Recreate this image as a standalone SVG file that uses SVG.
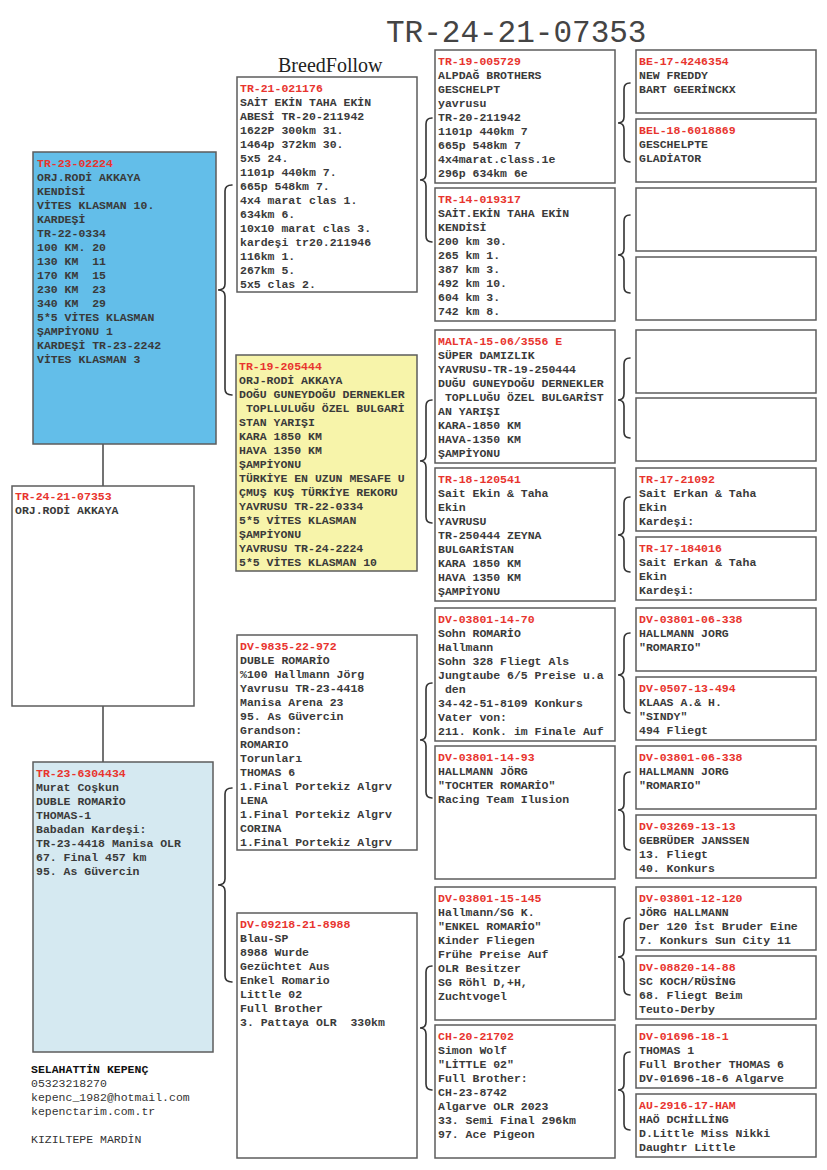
<svg xmlns="http://www.w3.org/2000/svg" width="827" height="1170" viewBox="0 0 827 1170">
<style>
.box{fill:#fff;stroke:#5c5c5c;stroke-width:1.5}
.sire{fill:#63bee9}
.dam{fill:#d5e9f1}
.yel{fill:#f7f4aa}
.t{font-family:"Liberation Mono","DejaVu Sans Mono",monospace;font-size:11.5px;fill:#3a3a3a;font-weight:bold;white-space:pre}
.f{font-family:"Liberation Mono","DejaVu Sans Mono",monospace;font-size:11.5px;fill:#333;white-space:pre}
.r{fill:#e8342e}
.br{fill:none;stroke:#333;stroke-width:1.6;stroke-linecap:round}
.ln{stroke:#444;stroke-width:1.5}
</style>
<rect width="827" height="1170" fill="#fff"/>
<text x="386" y="42" font-family="Liberation Mono, monospace" font-size="31" fill="#444">TR-24-21-07353</text>
<text x="278" y="72" font-family="Liberation Serif, serif" font-size="20" fill="#222">BreedFollow</text>

<g id="connectors">
<line class="ln" x1="103" y1="444" x2="103" y2="486"/>
<line class="ln" x1="103" y1="706" x2="103" y2="762"/>
<path class="br" d="M232,185 Q225,185 225,191 L225,284 Q225,290 218,290 Q225,290 225,296 L225,389 Q225,395 232,395"/>
<path class="br" d="M232,788 Q225,788 225,794 L225,879 Q225,885 218,885 Q225,885 225,891 L225,976 Q225,982 232,982"/>
<path class="br" d="M432,118 Q426,118 426,124 L426,174 Q426,180 420,180 Q426,180 426,186 L426,236 Q426,242 432,242"/>
<path class="br" d="M432,400 Q426,400 426,406 L426,455 Q426,461 420,461 Q426,461 426,467 L426,517 Q426,523 432,523"/>
<path class="br" d="M432,683 Q426,683 426,689 L426,734 Q426,740 420,740 Q426,740 426,746 L426,792 Q426,798 432,798"/>
<path class="br" d="M432,966 Q426,966 426,972 L426,1022 Q426,1028 420,1028 Q426,1028 426,1034 L426,1084 Q426,1090 432,1090"/>
<path class="br" d="M630,83 Q624,83 624,89 L624,117 Q624,123 618,123 Q624,123 624,129 L624,156 Q624,162 630,162"/>
<path class="br" d="M630,215 Q624,215 624,221 L624,249 Q624,255 618,255 Q624,255 624,261 L624,287 Q624,293 630,293"/>
<path class="br" d="M630,358 Q624,358 624,364 L624,394 Q624,400 618,400 Q624,400 624,406 L624,432 Q624,438 630,438"/>
<path class="br" d="M630,497 Q624,497 624,503 L624,529 Q624,535 618,535 Q624,535 624,541 L624,566 Q624,572 630,572"/>
<path class="br" d="M630,633 Q624,633 624,639 L624,669 Q624,675 618,675 Q624,675 624,681 L624,707 Q624,713 630,713"/>
<path class="br" d="M630,772 Q624,772 624,778 L624,804 Q624,810 618,810 Q624,810 624,816 L624,844 Q624,850 630,850"/>
<path class="br" d="M630,918 Q624,918 624,924 L624,951 Q624,957 618,957 Q624,957 624,963 L624,989 Q624,995 630,995"/>
<path class="br" d="M630,1052 Q624,1052 624,1058 L624,1084 Q624,1090 618,1090 Q624,1090 624,1096 L624,1124 Q624,1130 630,1130"/>
</g>

<g id="sire">
<rect class="box sire" x="33" y="152" width="183" height="292"/>
<text class="t" x="37" y="167" xml:space="preserve"><tspan class="r">TR-23-02224</tspan><tspan x="37" dy="14">ORJ.RODİ AKKAYA</tspan><tspan x="37" dy="14">KENDİSİ</tspan><tspan x="37" dy="14">VİTES KLASMAN 10.</tspan><tspan x="37" dy="14">KARDEŞİ</tspan><tspan x="37" dy="14">TR-22-0334</tspan><tspan x="37" dy="14">100 KM. 20</tspan><tspan x="37" dy="14">130 KM  11</tspan><tspan x="37" dy="14">170 KM  15</tspan><tspan x="37" dy="14">230 KM  23</tspan><tspan x="37" dy="14">340 KM  29</tspan><tspan x="37" dy="14">5*5 VİTES KLASMAN</tspan><tspan x="37" dy="14">ŞAMPİYONU 1</tspan><tspan x="37" dy="14">KARDEŞİ TR-23-2242</tspan><tspan x="37" dy="14">VİTES KLASMAN 3</tspan></text>
</g>

<g id="subject">
<rect class="box" x="12" y="486" width="182" height="220"/>
<text class="t" x="15" y="500"><tspan class="r">TR-24-21-07353</tspan><tspan x="15" dy="14">ORJ.RODİ AKKAYA</tspan></text>
</g>

<g id="dam">
<rect class="box dam" x="33" y="762" width="180" height="290"/>
<text class="t" x="36" y="777"><tspan class="r">TR-23-6304434</tspan><tspan x="36" dy="14">Murat Coşkun</tspan><tspan x="36" dy="14">DUBLE ROMARİO</tspan><tspan x="36" dy="14">THOMAS-1</tspan><tspan x="36" dy="14">Babadan Kardeşi:</tspan><tspan x="36" dy="14">TR-23-4418 Manisa OLR</tspan><tspan x="36" dy="14">67. Final 457 km</tspan><tspan x="36" dy="14">95. As Güvercin</tspan></text>
</g>

<g id="ss">
<rect class="box" x="237" y="77" width="180" height="215"/>
<text class="t" x="240" y="92"><tspan class="r">TR-21-021176</tspan><tspan x="240" dy="14">SAİT EKİN TAHA EKİN</tspan><tspan x="240" dy="14">ABESİ TR-20-211942</tspan><tspan x="240" dy="14">1622P 300km 31.</tspan><tspan x="240" dy="14">1464p 372km 30.</tspan><tspan x="240" dy="14">5x5 24.</tspan><tspan x="240" dy="14">1101p 440km 7.</tspan><tspan x="240" dy="14">665p 548km 7.</tspan><tspan x="240" dy="14">4x4 marat clas 1.</tspan><tspan x="240" dy="14">634km 6.</tspan><tspan x="240" dy="14">10x10 marat clas 3.</tspan><tspan x="240" dy="14">kardeşi tr20.211946</tspan><tspan x="240" dy="14">116km 1.</tspan><tspan x="240" dy="14">267km 5.</tspan><tspan x="240" dy="14">5x5 clas 2.</tspan></text>
</g>

<g id="sd">
<rect class="box yel" x="236" y="355" width="181" height="216"/>
<text class="t" x="239" y="370" xml:space="preserve"><tspan class="r">TR-19-205444</tspan><tspan x="239" dy="14">ORJ-RODİ AKKAYA</tspan><tspan x="239" dy="14">DOĞU GUNEYDOĞU DERNEKLER</tspan><tspan x="239" dy="14"> TOPLLULUĞU ÖZEL BULGARİ</tspan><tspan x="239" dy="14">STAN YARIŞI</tspan><tspan x="239" dy="14">KARA 1850 KM</tspan><tspan x="239" dy="14">HAVA 1350 KM</tspan><tspan x="239" dy="14">ŞAMPİYONU</tspan><tspan x="239" dy="14">TÜRKİYE EN UZUN MESAFE U</tspan><tspan x="239" dy="14">ÇMUŞ KUŞ TÜRKİYE REKORU</tspan><tspan x="239" dy="14">YAVRUSU TR-22-0334</tspan><tspan x="239" dy="14">5*5 VİTES KLASMAN</tspan><tspan x="239" dy="14">ŞAMPİYONU</tspan><tspan x="239" dy="14">YAVRUSU TR-24-2224</tspan><tspan x="239" dy="14">5*5 VİTES KLASMAN 10</tspan></text>
</g>

<g id="ds">
<rect class="box" x="237" y="635" width="180" height="215"/>
<text class="t" x="240" y="650"><tspan class="r">DV-9835-22-972</tspan><tspan x="240" dy="14">DUBLE ROMARİO</tspan><tspan x="240" dy="14">%100 Hallmann Jörg</tspan><tspan x="240" dy="14">Yavrusu TR-23-4418</tspan><tspan x="240" dy="14">Manisa Arena 23</tspan><tspan x="240" dy="14">95. As Güvercin</tspan><tspan x="240" dy="14">Grandson:</tspan><tspan x="240" dy="14">ROMARIO</tspan><tspan x="240" dy="14">Torunları</tspan><tspan x="240" dy="14">THOMAS 6</tspan><tspan x="240" dy="14">1.Final Portekiz Algrv</tspan><tspan x="240" dy="14">LENA</tspan><tspan x="240" dy="14">1.Final Portekiz Algrv</tspan><tspan x="240" dy="14">CORINA</tspan><tspan x="240" dy="14">1.Final Portekiz Algrv</tspan></text>
</g>

<g id="dd">
<rect class="box" x="237" y="913" width="180" height="245"/>
<text class="t" x="240" y="928" xml:space="preserve"><tspan class="r">DV-09218-21-8988</tspan><tspan x="240" dy="14">Blau-SP</tspan><tspan x="240" dy="14">8988 Wurde</tspan><tspan x="240" dy="14">Gezüchtet Aus</tspan><tspan x="240" dy="14">Enkel Romario</tspan><tspan x="240" dy="14">Little 02</tspan><tspan x="240" dy="14">Full Brother</tspan><tspan x="240" dy="14">3. Pattaya OLR  330km</tspan></text>
</g>

<g id="sss">
<rect class="box" x="435" y="50" width="180" height="133"/>
<text class="t" x="438" y="65"><tspan class="r">TR-19-005729</tspan><tspan x="438" dy="14">ALPDAĞ BROTHERS</tspan><tspan x="438" dy="14">GESCHELPT</tspan><tspan x="438" dy="14">yavrusu</tspan><tspan x="438" dy="14">TR-20-211942</tspan><tspan x="438" dy="14">1101p 440km 7</tspan><tspan x="438" dy="14">665p 548km 7</tspan><tspan x="438" dy="14">4x4marat.class.1e</tspan><tspan x="438" dy="14">296p 634km 6e</tspan></text>
</g>
<g id="ssd">
<rect class="box" x="435" y="188" width="180" height="133"/>
<text class="t" x="438" y="203"><tspan class="r">TR-14-019317</tspan><tspan x="438" dy="14">SAİT.EKİN TAHA EKİN</tspan><tspan x="438" dy="14">KENDİSİ</tspan><tspan x="438" dy="14">200 km 30.</tspan><tspan x="438" dy="14">265 km 1.</tspan><tspan x="438" dy="14">387 km 3.</tspan><tspan x="438" dy="14">492 km 10.</tspan><tspan x="438" dy="14">604 km 3.</tspan><tspan x="438" dy="14">742 km 8.</tspan></text>
</g>
<g id="sds">
<rect class="box" x="435" y="330" width="180" height="133"/>
<text class="t" x="438" y="345" xml:space="preserve"><tspan class="r">MALTA-15-06/3556 E</tspan><tspan x="438" dy="14">SÜPER DAMIZLIK</tspan><tspan x="438" dy="14">YAVRUSU-TR-19-250444</tspan><tspan x="438" dy="14">DUĞU GUNEYDOĞU DERNEKLER</tspan><tspan x="438" dy="14"> TOPLLUĞU ÖZEL BULGARİST</tspan><tspan x="438" dy="14">AN YARIŞI</tspan><tspan x="438" dy="14">KARA-1850 KM</tspan><tspan x="438" dy="14">HAVA-1350 KM</tspan><tspan x="438" dy="14">ŞAMPİYONU</tspan></text>
</g>
<g id="sdd">
<rect class="box" x="435" y="468" width="180" height="133"/>
<text class="t" x="438" y="483"><tspan class="r">TR-18-120541</tspan><tspan x="438" dy="14">Sait Ekin &amp; Taha</tspan><tspan x="438" dy="14">Ekin</tspan><tspan x="438" dy="14">YAVRUSU</tspan><tspan x="438" dy="14">TR-250444 ZEYNA</tspan><tspan x="438" dy="14">BULGARİSTAN</tspan><tspan x="438" dy="14">KARA 1850 KM</tspan><tspan x="438" dy="14">HAVA 1350 KM</tspan><tspan x="438" dy="14">ŞAMPİYONU</tspan></text>
</g>
<g id="dss">
<rect class="box" x="435" y="608" width="180" height="133"/>
<text class="t" x="438" y="623" xml:space="preserve"><tspan class="r">DV-03801-14-70</tspan><tspan x="438" dy="14">Sohn ROMARİO</tspan><tspan x="438" dy="14">Hallmann</tspan><tspan x="438" dy="14">Sohn 328 Fliegt Als</tspan><tspan x="438" dy="14">Jungtaube 6/5 Preise u.a</tspan><tspan x="438" dy="14"> den</tspan><tspan x="438" dy="14">34-42-51-8109 Konkurs</tspan><tspan x="438" dy="14">Vater von:</tspan><tspan x="438" dy="14">211. Konk. im Finale Auf</tspan></text>
</g>
<g id="dsd">
<rect class="box" x="435" y="746" width="180" height="133"/>
<text class="t" x="438" y="761"><tspan class="r">DV-03801-14-93</tspan><tspan x="438" dy="14">HALLMANN JÖRG</tspan><tspan x="438" dy="14">"TOCHTER ROMARİO"</tspan><tspan x="438" dy="14">Racing Team Ilusion</tspan></text>
</g>
<g id="dds">
<rect class="box" x="435" y="887" width="180" height="133"/>
<text class="t" x="438" y="902"><tspan class="r">DV-03801-15-145</tspan><tspan x="438" dy="14">Hallmann/SG K.</tspan><tspan x="438" dy="14">"ENKEL ROMARİO"</tspan><tspan x="438" dy="14">Kinder Fliegen</tspan><tspan x="438" dy="14">Frühe Preise Auf</tspan><tspan x="438" dy="14">OLR Besitzer</tspan><tspan x="438" dy="14">SG Röhl D,+H,</tspan><tspan x="438" dy="14">Zuchtvogel</tspan></text>
</g>
<g id="ddd">
<rect class="box" x="435" y="1025" width="180" height="133"/>
<text class="t" x="438" y="1040"><tspan class="r">CH-20-21702</tspan><tspan x="438" dy="14">Simon Wolf</tspan><tspan x="438" dy="14">"LİTTLE 02"</tspan><tspan x="438" dy="14">Full Brother:</tspan><tspan x="438" dy="14">CH-23-8742</tspan><tspan x="438" dy="14">Algarve OLR 2023</tspan><tspan x="438" dy="14">33. Semi Final 296km</tspan><tspan x="438" dy="14">97. Ace Pigeon</tspan></text>
</g>

<g id="g4-1"><rect class="box" x="636" y="50" width="180" height="63"/>
<text class="t" x="639" y="65"><tspan class="r">BE-17-4246354</tspan><tspan x="639" dy="14">NEW FREDDY</tspan><tspan x="639" dy="14">BART GEERİNCKX</tspan></text></g>
<g id="g4-2"><rect class="box" x="636" y="119" width="180" height="63"/>
<text class="t" x="639" y="134"><tspan class="r">BEL-18-6018869</tspan><tspan x="639" dy="14">GESCHELPTE</tspan><tspan x="639" dy="14">GLADİATOR</tspan></text></g>
<g id="g4-3"><rect class="box" x="636" y="188" width="180" height="63"/></g>
<g id="g4-4"><rect class="box" x="636" y="257" width="180" height="63"/></g>
<g id="g4-5"><rect class="box" x="636" y="330" width="180" height="63"/></g>
<g id="g4-6"><rect class="box" x="636" y="398" width="180" height="63"/></g>
<g id="g4-7"><rect class="box" x="636" y="468" width="180" height="63"/>
<text class="t" x="639" y="483"><tspan class="r">TR-17-21092</tspan><tspan x="639" dy="14">Sait Erkan &amp; Taha</tspan><tspan x="639" dy="14">Ekin</tspan><tspan x="639" dy="14">Kardeşi:</tspan></text></g>
<g id="g4-8"><rect class="box" x="636" y="537" width="180" height="63"/>
<text class="t" x="639" y="552"><tspan class="r">TR-17-184016</tspan><tspan x="639" dy="14">Sait Erkan &amp; Taha</tspan><tspan x="639" dy="14">Ekin</tspan><tspan x="639" dy="14">Kardeşi:</tspan></text></g>
<g id="g4-9"><rect class="box" x="636" y="608" width="180" height="63"/>
<text class="t" x="639" y="623"><tspan class="r">DV-03801-06-338</tspan><tspan x="639" dy="14">HALLMANN JORG</tspan><tspan x="639" dy="14">"ROMARIO"</tspan></text></g>
<g id="g4-10"><rect class="box" x="636" y="677" width="180" height="63"/>
<text class="t" x="639" y="692"><tspan class="r">DV-0507-13-494</tspan><tspan x="639" dy="14">KLAAS A.&amp; H.</tspan><tspan x="639" dy="14">"SINDY"</tspan><tspan x="639" dy="14">494 Fliegt</tspan></text></g>
<g id="g4-11"><rect class="box" x="636" y="746" width="180" height="63"/>
<text class="t" x="639" y="761"><tspan class="r">DV-03801-06-338</tspan><tspan x="639" dy="14">HALLMANN JORG</tspan><tspan x="639" dy="14">"ROMARIO"</tspan></text></g>
<g id="g4-12"><rect class="box" x="636" y="815" width="180" height="63"/>
<text class="t" x="639" y="830"><tspan class="r">DV-03269-13-13</tspan><tspan x="639" dy="14">GEBRÜDER JANSSEN</tspan><tspan x="639" dy="14">13. Fliegt</tspan><tspan x="639" dy="14">40. Konkurs</tspan></text></g>
<g id="g4-13"><rect class="box" x="636" y="887" width="180" height="63"/>
<text class="t" x="639" y="902"><tspan class="r">DV-03801-12-120</tspan><tspan x="639" dy="14">JÖRG HALLMANN</tspan><tspan x="639" dy="14">Der 120 İst Bruder Eine</tspan><tspan x="639" dy="14">7. Konkurs Sun City 11</tspan></text></g>
<g id="g4-14"><rect class="box" x="636" y="956" width="180" height="63"/>
<text class="t" x="639" y="971"><tspan class="r">DV-08820-14-88</tspan><tspan x="639" dy="14">SC KOCH/RÜSİNG</tspan><tspan x="639" dy="14">68. Fliegt Beim</tspan><tspan x="639" dy="14">Teuto-Derby</tspan></text></g>
<g id="g4-15"><rect class="box" x="636" y="1025" width="180" height="63"/>
<text class="t" x="639" y="1040"><tspan class="r">DV-01696-18-1</tspan><tspan x="639" dy="14">THOMAS 1</tspan><tspan x="639" dy="14">Full Brother THOMAS 6</tspan><tspan x="639" dy="14">DV-01696-18-6 Algarve</tspan></text></g>
<g id="g4-16"><rect class="box" x="636" y="1094" width="180" height="63"/>
<text class="t" x="639" y="1109"><tspan class="r">AU-2916-17-HAM</tspan><tspan x="639" dy="14">HAÖ DCHİLLİNG</tspan><tspan x="639" dy="14">D.Little Miss Nikki</tspan><tspan x="639" dy="14">Daughtr Little</tspan></text></g>

<g id="footer">
<text class="f" x="31" y="1073" font-weight="bold" style="fill:#111">SELAHATTİN KEPENÇ</text>
<text class="f" x="31" y="1087">05323218270</text>
<text class="f" x="31" y="1101">kepenc_1982@hotmail.com</text>
<text class="f" x="31" y="1115">kepenctarim.com.tr</text>
<text class="f" x="31" y="1143">KIZILTEPE MARDİN</text>
</g>
</svg>
